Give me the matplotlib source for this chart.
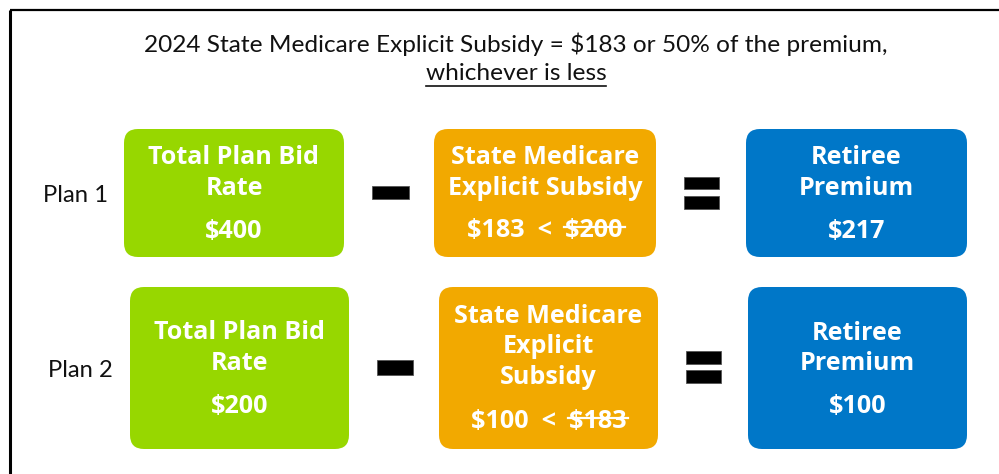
import matplotlib
matplotlib.use("Agg")
import matplotlib.pyplot as plt
from matplotlib.patches import FancyBboxPatch, Rectangle

plt.rcParams["text.parse_math"] = False

# ---------------- data ----------------
plans = ["Plan 1", "Plan 2"]
bid_rate = [400, 200]
subsidy = [183, 100]
subsidy_cap = [200, 183]          # struck-through comparison value
premium = [217, 100]
header_line1 = "2024 State Medicare Explicit Subsidy = $183 or 50% of the premium,"
header_line2 = "whichever is less"
titles_row1 = [["Total Plan Bid", "Rate"], ["State Medicare", "Explicit Subsidy"], ["Retiree", "Premium"]]
titles_row2 = [["Total Plan Bid", "Rate"], ["State Medicare", "Explicit", "Subsidy"], ["Retiree", "Premium"]]

# ---------------- style / layout ----------------
GREEN, ORANGE, BLUE = "#97D700", "#F2A900", "#0077C8"
W, H = 999, 474
fig = plt.figure(figsize=(W / 100, H / 100), dpi=100)
ax = fig.add_axes([0, 0, 1, 1])
ax.set_xlim(0, W)
ax.set_ylim(H, 0)
ax.axis("off")
renderer = fig.canvas.get_renderer()

def width_of(t):
    return t.get_window_extent(renderer).width

def fit(t, target):
    for _ in range(3):
        w = width_of(t)
        t.set_fontsize(t.get_fontsize() * target / w)

# frame (top and left edges)
ax.plot([10, W + 5], [9.5, 9.5], color="black", lw=1.6, solid_capstyle="butt")
ax.plot([10, 10], [9.5, H + 5], color="black", lw=2.2, solid_capstyle="butt")

# header
h1 = ax.text(516, 52, header_line1, ha="center", va="baseline", family="Lato", fontsize=15, color="#111111")
fit(h1, 742)
h2 = ax.text(516, 80, header_line2, ha="center", va="baseline", family="Lato", fontsize=h1.get_fontsize(), color="#111111")
w2 = width_of(h2)
ax.plot([516 - w2 / 2, 516 + w2 / 2], [85.5, 85.5], color="#111111", lw=1.2)

# row layouts
rows = [
    dict(label_x=76, label_base=202,
         boxes=[(124, 344), (434, 656), (746, 967)], y0=129, y1=257,
         title_bases=[[164, 195], [164, 195], [164, 195]], value_base=[238, 237, 238],
         minus=(372, 409, 186, 199), equals=(684, 719, 177, 189, 196, 209),
         titles=titles_row1),
    dict(label_x=80, label_base=377,
         boxes=[(130, 349), (439, 658), (748, 967)], y0=287, y1=449,
         title_bases=[[339, 370], [323, 353, 384], [340, 370]], value_base=[413, 428, 413],
         minus=(377, 413, 360, 375), equals=(686, 721, 351, 364, 370, 383),
         titles=titles_row2),
]

# reference font size for box text (fit "Total Plan Bid" to ~170 px)
tmp = ax.text(0, 0, "Total Plan Bid", family="Open Sans", weight="bold", fontsize=14)
fit(tmp, 171)
BOX_FS = tmp.get_fontsize()
tmp.remove()

for i, row in enumerate(rows):
    lab = ax.text(row["label_x"], row["label_base"], plans[i], ha="center", va="baseline",
                  family="Lato", fontsize=15, color="#111111")
    fit(lab, 65)
    colors = [GREEN, ORANGE, BLUE]
    values = [f"${bid_rate[i]}", f"${subsidy[i]}  <  ${subsidy_cap[i]}", f"${premium[i]}"]
    for j, (x0, x1) in enumerate(row["boxes"]):
        ax.add_patch(FancyBboxPatch((x0, row["y0"]), x1 - x0, row["y1"] - row["y0"],
                                    boxstyle="round,pad=0,rounding_size=14",
                                    facecolor=colors[j], edgecolor="none"))
        cx = (x0 + x1) / 2
        for line, yb in zip(row["titles"][j], row["title_bases"][j]):
            ax.text(cx, yb, line, ha="center", va="baseline", family="Open Sans",
                    weight="bold", fontsize=BOX_FS, color="white")
        vt = ax.text(cx, row["value_base"][j], values[j], ha="center", va="baseline",
                     family="Open Sans", weight="bold", fontsize=BOX_FS, color="white")
        if j == 1:
            full = width_of(vt)
            st = ax.text(0, 0, f"${subsidy_cap[i]}", family="Open Sans", weight="bold", fontsize=BOX_FS)
            sw = width_of(st)
            st.remove()
            xr = cx + full / 2
            ys = row["value_base"][j] - 10
            ax.plot([xr - sw - 1, xr + 2], [ys, ys], color="white", lw=1.6)
    # operators
    mx0, mx1, my0, my1 = row["minus"]
    ax.add_patch(Rectangle((mx0, my0), mx1 - mx0, my1 - my0, facecolor="black", edgecolor="#555555", lw=0.6))
    ex0, ex1, a0, a1, b0, b1 = row["equals"]
    ax.add_patch(Rectangle((ex0, a0), ex1 - ex0, a1 - a0, facecolor="black", edgecolor="#555555", lw=0.6))
    ax.add_patch(Rectangle((ex0, b0), ex1 - ex0, b1 - b0, facecolor="black", edgecolor="#555555", lw=0.6))

fig.savefig("out.png", dpi=100)
